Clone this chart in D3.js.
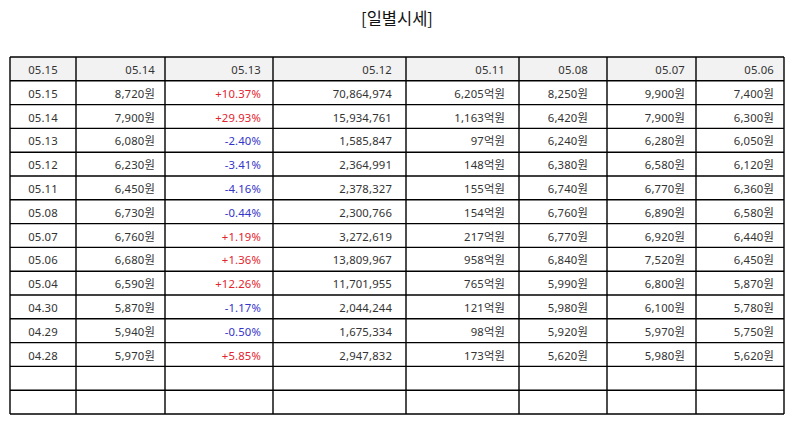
<!DOCTYPE html>
<html><head><meta charset="utf-8">
<script src="https://cdn.jsdelivr.net/npm/d3@7"></script>
<style>
html,body{margin:0;padding:0;background:#fff;}
svg{display:block;}
</style>
</head><body>
<svg id="chart" width="794" height="425"></svg>
<script>
const title = "[일별시세]";
const headers = ["05.15","05.14","05.13","05.12","05.11","05.08","05.07","05.06"];
const dates = ["05.15","05.14","05.13","05.12","05.11","05.08","05.07","05.06","05.04","04.30","04.29","04.28"];
const closePrice = [8720,7900,6080,6230,6450,6730,6760,6680,6590,5870,5940,5970];
const changePct = [10.37,29.93,-2.40,-3.41,-4.16,-0.44,1.19,1.36,12.26,-1.17,-0.50,5.85];
const volume = [70864974,15934761,1585847,2364991,2378327,2300766,3272619,13809967,11701955,2044244,1675334,2947832];
const amount = [6205,1163,97,148,155,154,217,958,765,121,98,173];
const openPrice = [8250,6420,6240,6380,6740,6760,6770,6840,5990,5980,5920,5620];
const highPrice = [9900,7900,6280,6580,6770,6890,6920,7520,6800,6100,5970,5980];
const lowPrice = [7400,6300,6050,6120,6360,6580,6440,6450,5870,5780,5750,5620];
const emptyRows = 2;

// layout (not data)
const colEdges = [10,76,165,273,406,519,607,696,784];
const padRight = [0,10,12,14,14,19,11,10];
const tableTop = 57, tableBottom = 414;
const RED = "#e3242e", BLUE = "#3434c8";

const svg = d3.select("#chart");
const fmt = d3.format(",");
const fontFam = "'Noto Sans','Noto Sans CJK KR',sans-serif";

svg.append("text").attr("x",397).attr("y",18)
  .attr("text-anchor","middle").attr("dominant-baseline","central")
  .attr("font-family","'Noto Sans CJK KR',sans-serif").attr("font-size",16.5).attr("fill","#111")
  .text(title);

const nRows = 1 + dates.length + emptyRows;
const y = d3.scaleBand().domain(d3.range(nRows)).range([tableTop, tableBottom]).padding(0);
const colX = i => colEdges[i];

const rows = [];
rows.push({cells: headers.map(h=>({t:h,c:"#333"})), header:true});
dates.forEach((d,i)=>{
  const p = changePct[i];
  rows.push({cells:[
    {t:d,c:"#333"},
    {t:fmt(closePrice[i])+"원",c:"#333"},
    {t:(p>0?"+":"")+p.toFixed(2)+"%",c:p>0?RED:BLUE},
    {t:fmt(volume[i]),c:"#333"},
    {t:fmt(amount[i])+"억원",c:"#333"},
    {t:fmt(openPrice[i])+"원",c:"#333"},
    {t:fmt(highPrice[i])+"원",c:"#333"},
    {t:fmt(lowPrice[i])+"원",c:"#333"}
  ]});
});
for(let k=0;k<emptyRows;k++) rows.push({cells:headers.map(()=>({t:"",c:"#333"}))});

svg.append("rect").attr("x",colX(0)).attr("y",y(0))
  .attr("width",colX(headers.length)-colX(0)).attr("height",y.bandwidth())
  .attr("fill","#f2f2f2");

const g = svg.append("g");
rows.forEach((r,ri)=>{
  r.cells.forEach((cell,ci)=>{
    if(!cell.t) return;
    const t = g.append("text")
      .attr("y", y(ri)+y.bandwidth()/2+0.5)
      .attr("dominant-baseline","central")
      .attr("font-family",fontFam).attr("font-size",11.3)
      .attr("letter-spacing",0.15)
      .attr("fill",cell.c).text(cell.t);
    if(ci===0){
      t.attr("x",(colX(0)+colX(1))/2).attr("text-anchor","middle");
    } else {
      t.attr("x",colX(ci+1)-padRight[ci]).attr("text-anchor","end");
    }
  });
});

const lines = svg.append("g").attr("stroke","#000").attr("stroke-width",1.4).attr("fill","none");
d3.range(nRows+1).forEach(i=>{
  const yy = i<nRows ? y(i) : tableBottom;
  lines.append("line").attr("x1",colX(0)).attr("x2",colX(colEdges.length-1)).attr("y1",yy).attr("y2",yy);
});
colEdges.forEach((cx)=>{
  lines.append("line").attr("x1",cx).attr("x2",cx).attr("y1",tableTop).attr("y2",tableBottom);
});
</script>
</body></html>
